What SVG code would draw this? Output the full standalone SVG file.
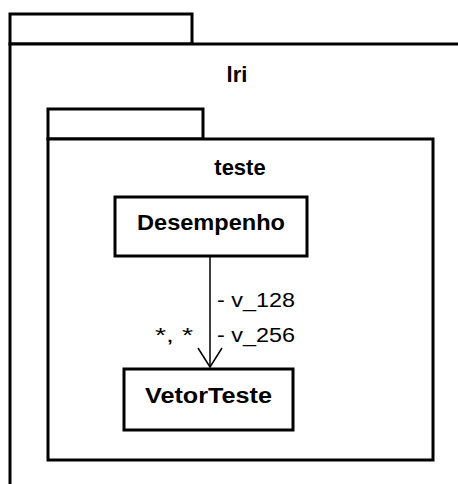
<svg xmlns="http://www.w3.org/2000/svg" width="458" height="484" viewBox="0 0 458 484">
<style>
.b{fill:#fff;stroke:#000;stroke-width:3}
.t{font-family:"Liberation Sans",Arial,sans-serif;font-weight:bold;font-size:22px;fill:#000;text-anchor:middle}
.l{font-family:"Liberation Sans",Arial,sans-serif;font-size:20px;fill:#000}
.c{fill:none;stroke:#000;stroke-width:1.5}
</style>
<rect width="458" height="484" fill="#fff"/>
<g id="pkg-lri">
<rect class="b" x="10" y="14" width="182" height="30"/>
<path class="b" d="M10,490 V44 H470" fill="none"/>
<text class="t" x="237" y="82">lri</text>
</g>
<g id="pkg-teste">
<rect class="b" x="48" y="109" width="155" height="30"/>
<rect class="b" x="48" y="139" width="385" height="321"/>
<text class="t" x="240" y="175">teste</text>
</g>
<g id="Desempenho">
<rect class="b" x="115" y="197" width="192" height="59"/>
<text class="t" x="211" y="230" textLength="148" lengthAdjust="spacingAndGlyphs">Desempenho</text>
</g>
<g id="VetorTeste">
<rect class="b" x="124" y="369" width="169" height="61"/>
<text class="t" x="208.5" y="403" textLength="127" lengthAdjust="spacingAndGlyphs">VetorTeste</text>
</g>
<g id="connectors">
<line class="c" x1="210" y1="257" x2="210" y2="367"/>
<polyline class="c" stroke-width="2.5" points="198,348 210,367 222,348"/>
<text class="l" x="217" y="307" textLength="78" lengthAdjust="spacingAndGlyphs">- v_128</text>
<text class="l" x="217" y="342" textLength="78" lengthAdjust="spacingAndGlyphs">- v_256</text>
<text class="l" x="155" y="342" textLength="38" lengthAdjust="spacingAndGlyphs">*, *</text>
</g>
</svg>
